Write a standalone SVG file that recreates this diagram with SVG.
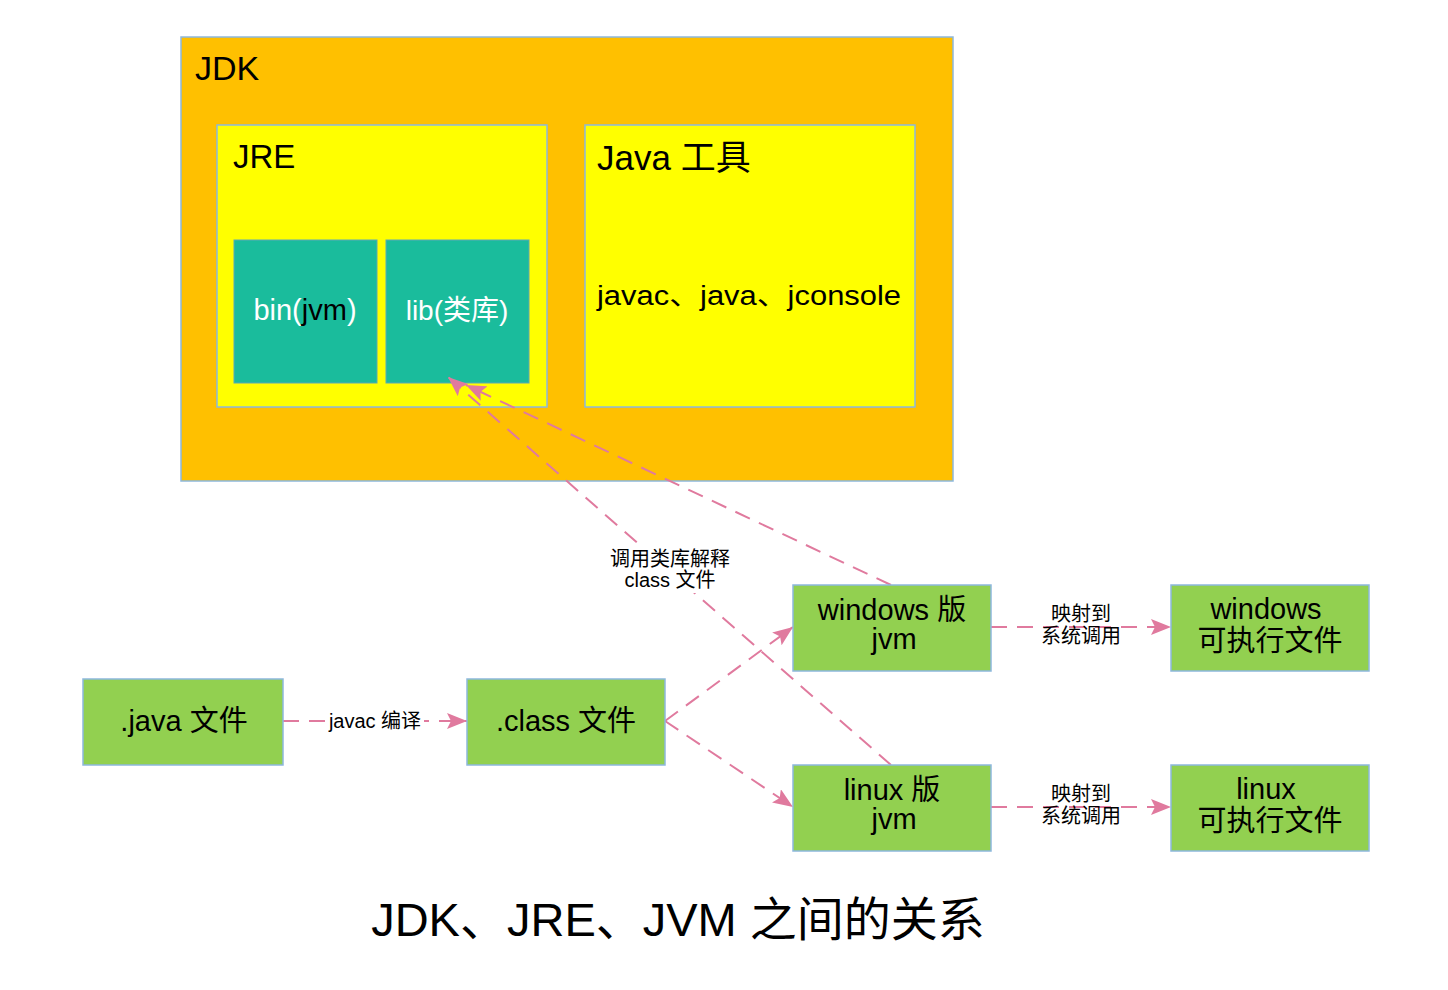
<svg xmlns="http://www.w3.org/2000/svg" width="1448" height="990" viewBox="0 0 1448 990">
<style>
text{font-family:"Liberation Sans","Noto Sans CJK SC",sans-serif;fill:#000}
.box{stroke:#8DB8DD;stroke-width:1.5}
.jdk{fill:#FFC000}
.yel{fill:#FFFF00}
.teal{fill:#1ABC9C}
.grn{fill:#92D050}
.c{text-anchor:middle}
.edge{fill:none;stroke:#E07A9E;stroke-width:2;stroke-dasharray:16 10}
.lbl{font-size:20px;text-anchor:middle}
.n{font-size:29px;text-anchor:middle}
</style>
<defs>
<marker id="arr" viewBox="0 0 20 16" refX="20" refY="8" markerWidth="20" markerHeight="16" markerUnits="userSpaceOnUse" orient="auto">
<path d="M0,0 L20,8 L0,16 L4,8 z" fill="#E07A9E"/>
</marker>
</defs>
<rect width="1448" height="990" fill="#fff"/>
<g id="jdk">
<rect class="box jdk" x="181" y="37" width="772" height="444"/>
<text x="195" y="80" font-size="34">JDK</text>
</g>
<g id="jre">
<rect class="box yel" x="217" y="125" width="330" height="282"/>
<text x="233" y="168" font-size="33">JRE</text>
</g>
<g id="tools">
<rect class="box yel" x="585" y="125" width="330" height="282"/>
<text x="597" y="170" font-size="35">Java 工具</text>
<text x="597" y="305" font-size="27" textLength="304" lengthAdjust="spacingAndGlyphs">javac、java、jconsole</text>
</g>
<g id="bin">
<rect class="teal" x="234" y="240" width="143" height="143" stroke="#5CA9B5" stroke-width="1"/>
<text class="c" x="305" y="320" font-size="29"><tspan style="fill:#fff">bin(</tspan><tspan>jvm</tspan><tspan style="fill:#fff">)</tspan></text>
</g>
<g id="lib">
<rect class="teal" x="386" y="240" width="143" height="143" stroke="#5CA9B5" stroke-width="1"/>
<text class="c" x="457" y="320" font-size="28" style="fill:#fff">lib(类库)</text>
</g>
<g id="connectors">
<line class="edge" x1="283" y1="721" x2="467" y2="721" marker-end="url(#arr)"/>
<line class="edge" x1="665" y1="721" x2="793" y2="627" marker-end="url(#arr)"/>
<line class="edge" x1="665" y1="721" x2="793" y2="807" marker-end="url(#arr)"/>
<line class="edge" x1="891" y1="585" x2="466" y2="385" marker-end="url(#arr)"/>
<line class="edge" x1="891" y1="765" x2="448" y2="377" marker-end="url(#arr)"/>
<line class="edge" x1="991" y1="627" x2="1171" y2="627" marker-end="url(#arr)"/>
<line class="edge" x1="991" y1="807" x2="1171" y2="807" marker-end="url(#arr)"/>
<rect x="326" y="709" width="98" height="24" fill="#fff"/>
<text class="lbl" x="375" y="728">javac 编译</text>
<rect x="610" y="547" width="120" height="46" fill="#fff"/>
<text class="lbl" x="670" y="566">调用类库解释</text>
<text class="lbl" x="670" y="587">class 文件</text>
<text class="lbl" x="1081" y="621">映射到</text>
<text class="lbl" x="1081" y="643">系统调用</text>
<text class="lbl" x="1081" y="801">映射到</text>
<text class="lbl" x="1081" y="823">系统调用</text>
</g>
<g id="java-file">
<rect class="box grn" x="83" y="679" width="200" height="86"/>
<text class="n" x="184" y="731">.java 文件</text>
</g>
<g id="class-file">
<rect class="box grn" x="467" y="679" width="198" height="86"/>
<text class="n" x="566" y="731">.class 文件</text>
</g>
<g id="win-jvm">
<rect class="box grn" x="793" y="585" width="198" height="86"/>
<text class="n" x="892" y="620">windows 版</text>
<text class="n" x="894" y="649">jvm</text>
</g>
<g id="linux-jvm">
<rect class="box grn" x="793" y="765" width="198" height="86"/>
<text class="n" x="892" y="800">linux 版</text>
<text class="n" x="894" y="829">jvm</text>
</g>
<g id="win-exe">
<rect class="box grn" x="1171" y="585" width="198" height="86"/>
<text class="n" x="1266" y="619">windows</text>
<text class="n" x="1270" y="651">可执行文件</text>
</g>
<g id="linux-exe">
<rect class="box grn" x="1171" y="765" width="198" height="86"/>
<text class="n" x="1266" y="799">linux</text>
<text class="n" x="1270" y="831">可执行文件</text>
</g>
<text class="c" x="678" y="936" font-size="47">JDK、JRE、JVM 之间的关系</text>
</svg>
